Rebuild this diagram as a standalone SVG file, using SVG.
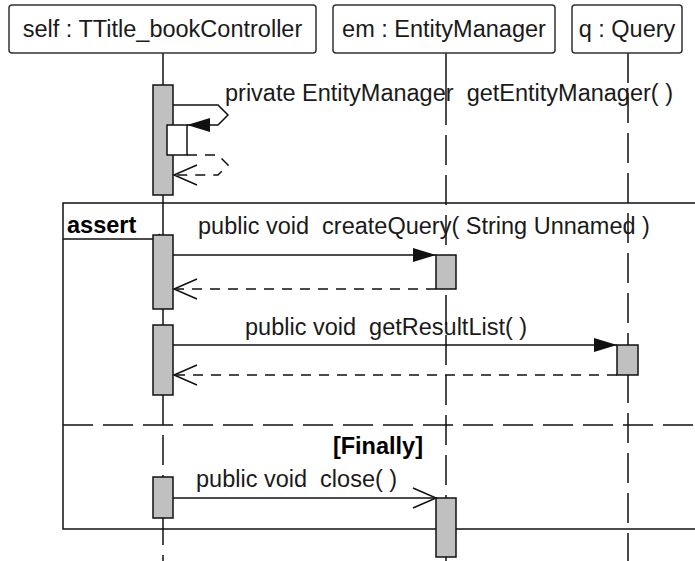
<svg xmlns="http://www.w3.org/2000/svg" width="695" height="561" viewBox="0 0 695 561">
<style>
text{font-family:"Liberation Sans",Arial,sans-serif;font-size:23.5px;fill:#1a1a1a;white-space:pre}
.b{font-weight:bold;fill:#000}
.hdr{fill:#fff;stroke:#333;stroke-width:1.5}
.ll{stroke:#111;stroke-width:1.5;fill:none}
.dash{stroke-dasharray:30,10}
.act{fill:#c0c0c0;stroke:#111;stroke-width:1.5}
.msg{stroke:#111;stroke-width:1.5;fill:none}
.ret{stroke:#111;stroke-width:1.5;fill:none;stroke-dasharray:10,8}
.fr{stroke:#111;stroke-width:1.5;fill:none}
</style>
<defs>
<marker id="fill" viewBox="0 0 24 16" refX="23" refY="8" markerWidth="24" markerHeight="16" markerUnits="userSpaceOnUse" orient="auto">
<path d="M0,1 L23,8 L0,15 z" fill="#111"/>
</marker>
<marker id="open" viewBox="0 0 26 24" refX="24" refY="12" markerWidth="26" markerHeight="24" markerUnits="userSpaceOnUse" orient="auto">
<path d="M1,2 L24,12 L1,22" fill="none" stroke="#111" stroke-width="1.5"/>
</marker>
</defs>

<g id="frame">
<rect class="fr" x="63" y="203" width="660" height="326"/>
<path class="fr" d="M63,239 L155,239 L160,234"/>
<line class="fr dash" x1="63" y1="425" x2="700" y2="425"/>
<text class="b" x="67" y="233">assert</text>
<text class="b" x="423" y="454" text-anchor="end">[Finally]</text>
</g>

<g id="lifelines">
<line class="ll" x1="163" y1="53" x2="163" y2="395"/>
<line class="ll dash" x1="163" y1="395" x2="163" y2="561"/>
<line class="ll" x1="446" y1="53" x2="446" y2="125"/>
<line class="ll dash" x1="446" y1="135" x2="446" y2="561"/>
<line class="ll dash" x1="628" y1="53" x2="628" y2="561"/>
</g>

<g id="self">
<rect class="hdr" x="9" y="5" width="307" height="48" rx="3"/>
<text x="162.5" y="37" text-anchor="middle">self : TTitle_bookController</text>
</g>
<g id="em">
<rect class="hdr" x="333" y="5" width="222" height="48" rx="3"/>
<text x="444" y="37" text-anchor="middle">em : EntityManager</text>
</g>
<g id="q">
<rect class="hdr" x="572" y="5" width="110" height="48" rx="3"/>
<text x="627" y="37" text-anchor="middle">q : Query</text>
</g>

<g id="activations">
<rect class="act" x="153" y="85" width="20" height="110"/>
<rect class="act" x="167" y="125" width="20" height="30" style="fill:#fff"/>
<rect class="act" x="153" y="235" width="20" height="74"/>
<rect class="act" x="153" y="325" width="20" height="70"/>
<rect class="act" x="153" y="477" width="20" height="41"/>
<rect class="act" x="436" y="255" width="20" height="34"/>
<rect class="act" x="617" y="345" width="21" height="30"/>
<rect class="act" x="436" y="498" width="20" height="59"/>
</g>

<g id="connectors">
<path class="msg" d="M173,105 L218,105 L228,115 L218,125 L187,125" marker-end="url(#fill)"/>
<path class="ret" d="M187,155 L218,155 L228,165 L218,175 L174,175" marker-end="url(#open)"/>
<line class="msg" x1="173" y1="255" x2="436" y2="255" marker-end="url(#fill)"/>
<line class="ret" x1="436" y1="289" x2="174" y2="289" marker-end="url(#open)"/>
<line class="msg" x1="173" y1="345" x2="617" y2="345" marker-end="url(#fill)"/>
<line class="ret" x1="617" y1="375" x2="174" y2="375" marker-end="url(#open)"/>
<line class="msg" x1="173" y1="498" x2="436" y2="498" marker-end="url(#open)"/>
<text x="225" y="101" xml:space="preserve">private EntityManager  getEntityManager( )</text>
<text x="198" y="234" xml:space="preserve">public void  createQuery( String Unnamed )</text>
<text x="245" y="335" xml:space="preserve">public void  getResultList( )</text>
<text x="196" y="487" xml:space="preserve">public void  close( )</text>
</g>
</svg>
